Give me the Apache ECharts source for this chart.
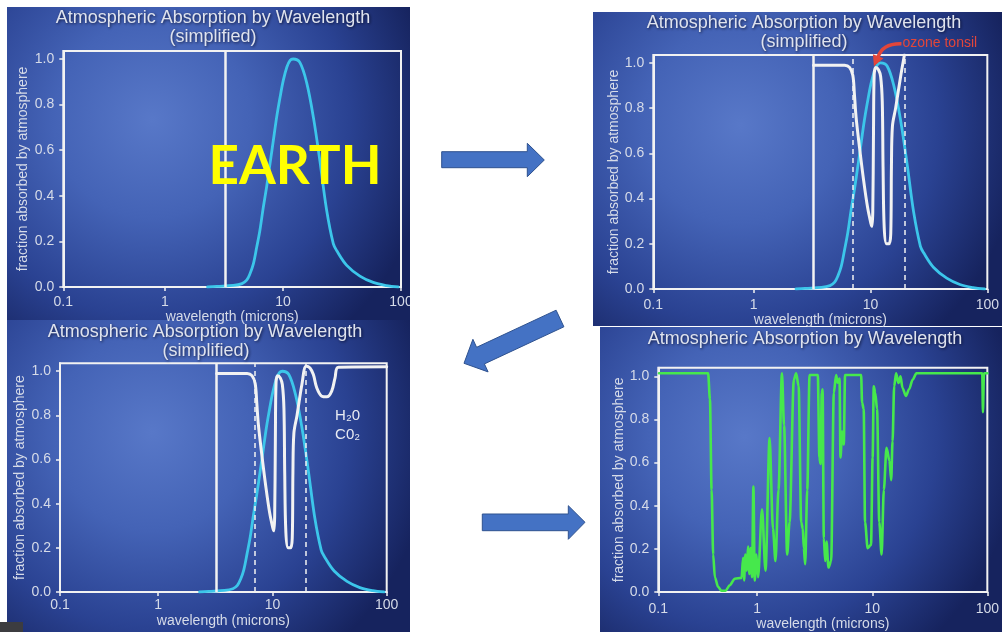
<!DOCTYPE html>
<html><head><meta charset="utf-8">
<script src="https://cdn.jsdelivr.net/npm/echarts@6/dist/echarts.min.js"></script>
<style>html,body{margin:0;padding:0;background:#fff}#c{width:1002px;height:632px}</style>
</head><body><div id="c"></div>
<script>
// ---------- text ----------
const titleText = 'Atmospheric Absorption by Wavelength';
const subtitleText = '(simplified)';
const xAxisTitle = 'wavelength (microns)';
const yAxisTitle = 'fraction absorbed by atmosphere';
const yTickValues = [0, 0.2, 0.4, 0.6, 0.8, 1.0];
const xRange = [0.138, 100];

// ---------- data: [wavelength (µm), value] ----------
const earthEmission = [
  [2.3,0],[2.75,0.003],[3.8,0.007],[4.5,0.015],[4.93,0.03],[5.26,0.058],[5.61,0.10],[6.0,0.175],
  [6.39,0.25],[6.82,0.35],[7.28,0.44],[7.77,0.54],[8.28,0.64],[8.85,0.745],[9.44,0.83],[10.07,0.906],
  [10.8,0.965],[11.5,0.994],[12.2,1.0],[13.9,0.985],[15.9,0.895],[18.1,0.745],[20.6,0.55],[23.4,0.34],
  [26.7,0.19],[28.5,0.16],[34.7,0.095],[44.9,0.048],[58.2,0.02],[75.5,0.006],[94.8,0.0]
];
const windowCore = [
  [3.25,0.99],[6.0,0.99],[6.61,0.98],[7.05,0.945],[7.28,0.86],[7.52,0.76],[8.03,0.63],[8.73,0.48],
  [9.44,0.36],[10.07,0.29],[10.27,0.277],[10.45,0.34],[10.6,0.69],[10.75,0.95],[11.1,0.98],[11.7,0.97],
  [12.2,0.94],[12.6,0.83],[12.8,0.54],[13.1,0.27],[13.7,0.2],[14.4,0.2],[14.9,0.245],[15.1,0.54],
  [15.4,0.72],[16.4,0.8],[18.1,0.94]
];
const windowEndPanel2 = [[19.5,1.035]];
const waterCo2Tail = [
  [19.7,1.023],[21.3,1.015],[22.8,0.985],[24.4,0.925],[27.0,0.887],[29.9,0.884],[33.0,0.91],
  [35.3,0.97],[37.8,1.018],[100,1.02]
];
const fullSpectrum = [
  [0.14,1.014],[0.374,1.014],[0.388,0.894],[0.401,0.474],[0.414,0.174],[0.428,0.069],[0.457,0.024],
  [0.489,0.006],[0.53,0.006],[0.577,0.032],[0.638,0.062],[0.73,0.066],[0.754,0.159],[0.768,0.054],
  [0.789,0.174],[0.811,0.099],[0.832,0.211],[0.855,0.084],[0.878,0.204],[0.901,0.069],[0.926,0.489],
  [0.951,0.054],[0.984,0.174],[1.016,0.069],[1.1,0.384],[1.18,0.099],[1.28,0.714],[1.37,0.294],
  [1.44,0.144],[1.53,0.474],[1.64,1.014],[1.71,0.774],[1.82,0.174],[1.91,0.324],[2.08,0.984],
  [2.18,1.014],[2.29,0.954],[2.41,0.324],[2.49,0.294],[2.54,0.204],[2.61,0.129],[2.72,0.474],
  [2.85,1.006],[3.36,1.006],[3.47,0.624],[3.55,0.594],[3.64,0.924],[3.7,0.94],[3.79,0.249],
  [3.9,0.144],[4.0,0.234],[4.16,0.114],[4.39,0.144],[4.63,0.924],[4.85,1.006],[5.0,0.97],[5.19,0.99],
  [5.29,0.624],[5.47,0.744],[5.65,0.684],[5.8,1.006],[8.0,1.006],[8.15,0.879],[8.42,0.849],
  [8.65,0.324],[9.12,0.204],[9.75,0.219],[10.07,0.624],[10.3,0.954],[10.6,0.924],[11.0,0.85],
  [11.5,0.324],[12.05,0.174],[12.6,0.474],[13.3,0.669],[14.1,0.609],[14.6,0.519],[15.0,0.699],
  [15.5,0.954],[16.1,1.014],[16.9,0.969],[17.6,1.0],[18.3,0.946],[19.6,0.909],[20.9,0.94],
  [22.4,0.984],[24.2,1.014],[90.4,1.014],[91.6,0.834],[93.5,1.014],[100,1.014]
];
const sunEarthDivide = 3.25;
const windowEdges = [7, 19.5];
const ozonePeak = [10.8, 0.985];
const gasLabelPos = [[35.3, 0.80], [35.3, 0.71]];
const gasLabels = ['H\u20820', 'C0\u2082'];

// ---------- layout / style ----------
const FONT = '"Liberation Sans", Arial, sans-serif';
const LABEL = '#d6dbe8';
const CYAN = '#3cc6ea';
const WHITE = '#f2f2f2';
const GREEN = '#46e84c';
const panels = [
  {bg:[7,7,403,313],   grid:[63.3,51,337.7,236],    yMax:1.035, gapY:33, mX:8,  gapX:22, title:[213,18],  sub:[213,37]},
  {bg:[593,12,409,314],grid:[653.3,55,337.7,234],   yMax:1.035, gapY:30, mX:9,  gapX:23, title:[804,23],  sub:[804,42]},
  {bg:[7,320,403,312], grid:[60,363.3,326.7,228.7], yMax:1.036, gapY:30, mX:6,  gapX:22, title:[205,332], sub:[206,351]},
  {bg:[600,327,402,305],grid:[658.3,367.7,330,231], yMax:1.04,  gapY:30, mX:10, gapX:21, title:[805,339], sub:null}
];

const chart = echarts.init(document.getElementById('c'), null, {renderer:'canvas'});

const grids = panels.map(p => ({left:p.grid[0], top:p.grid[1], width:p.grid[2], height:p.grid[3],
  show:true, borderColor:WHITE, borderWidth:2, backgroundColor:'transparent'}));
const xAxes = panels.map((p,i) => ({
  type:'log', logBase:10, gridIndex:i, min:xRange[0], max:xRange[1],
  axisLine:{show:true, lineStyle:{color:WHITE, width:2}},
  axisTick:{show:true, length:4, lineStyle:{color:WHITE, width:1.5}},
  splitLine:{show:false},
  axisLabel:{color:LABEL, fontSize:14, fontFamily:FONT, margin:p.mX,
    formatter: v => v < 0.5 ? '0.1' : String(Math.round(v))},
  name:xAxisTitle, nameLocation:'middle', nameGap:p.gapX,
  nameTextStyle:{color:LABEL, fontSize:14, fontFamily:FONT}
}));
const yAxes = panels.map((p,i) => ({
  type:'value', gridIndex:i, min:0, max:p.yMax,
  axisLine:{show:true, lineStyle:{color:WHITE, width:2}},
  axisTick:{show:true, length:4, customValues:yTickValues, lineStyle:{color:WHITE, width:1.5}},
  splitLine:{show:false},
  axisLabel:{color:LABEL, fontSize:14, fontFamily:FONT, margin:9, customValues:yTickValues,
    formatter: v => v.toFixed(1)},
  name:yAxisTitle, nameLocation:'middle', nameRotate:90, nameGap:p.gapY,
  nameTextStyle:{color:LABEL, fontSize:14, fontFamily:FONT}
}));

const solidDivide = {xAxis:sunEarthDivide, lineStyle:{color:WHITE, width:2.5, type:'solid'}};
const dashed = windowEdges.map(x => ({xAxis:x, lineStyle:{color:WHITE, width:1.5, type:[5,4]}}));
const ml = (data) => ({silent:true, symbol:'none', label:{show:false}, animation:false, data});
const lineS = (i, data, color, smooth, mono, width, extra) => Object.assign({
  type:'line', xAxisIndex:i, yAxisIndex:i, data, showSymbol:false, symbol:'none',
  smooth, smoothMonotone: mono,
  lineStyle:{color, width, cap:'round', join:'round'}, silent:true, animation:false
}, extra || {});

chart.setOption({
  animation:false,
  backgroundColor:'#ffffff',
  grid:grids, xAxis:xAxes, yAxis:yAxes,
  series:[
    lineS(0, earthEmission, CYAN, 0.35, null, 2.8, {markLine: ml([solidDivide])}),
    lineS(1, earthEmission, CYAN, 0.35, null, 2.8),
    lineS(1, windowCore.concat(windowEndPanel2), WHITE, 0.35, null, 3, {markLine: ml([solidDivide].concat(dashed))}),
    lineS(2, earthEmission, CYAN, 0.35, null, 2.8),
    lineS(2, windowCore.concat(waterCo2Tail), WHITE, 0.35, null, 3, {markLine: ml([solidDivide].concat(dashed))}),
    lineS(3, fullSpectrum, GREEN, 0.3, 'x', 2.6)
  ]
});

// ---------- decorations ----------
const bgFill = {type:'radial', x:0.36, y:0.36, r:0.9, colorStops:[
  {offset:0, color:'#5878c8'},{offset:0.35, color:'#4463b6'},{offset:0.7, color:'#2a4292'},{offset:1, color:'#16235e'}]};
const els = [];
panels.forEach(p => {
  els.push({type:'rect', z:-10, silent:true, shape:{x:p.bg[0], y:p.bg[1], width:p.bg[2], height:p.bg[3]}, style:{fill:bgFill}});
});
const txt = (x, y, text, font, fill, align, z) => ({type:'text', z:z||50, silent:true, x, y,
  style:{text, font, fill, align:align||'center', verticalAlign:'middle', textAlign:align||'center', textVerticalAlign:'middle',
    textShadowColor:'rgba(0,0,20,0.7)', textShadowBlur:3, textShadowOffsetX:1, textShadowOffsetY:1}});
panels.forEach(p => {
  els.push(txt(p.title[0], p.title[1], titleText, '18px ' + FONT, '#dfe3ee'));
  if (p.sub) els.push(txt(p.sub[0], p.sub[1], subtitleText, '18px ' + FONT, '#dfe3ee'));
});
// clip panel 1 "100" at panel edge
els.push({type:'rect', z:60, silent:true, shape:{x:410, y:288, width:25, height:32}, style:{fill:'#ffffff'}});
// small dark square
els.push({type:'rect', z:60, silent:true, shape:{x:0, y:622, width:23, height:10}, style:{fill:'#3c3c40'}});
// EARTH
els.push({type:'text', z:80, silent:true, x:295, y:167,
  style:{text:'EARTH', font:'bold 53px Lato, "Liberation Sans", sans-serif', fill:'#ffff00',
    align:'center', verticalAlign:'middle', textAlign:'center', textVerticalAlign:'middle'}});
// arrows between panels
const arrowStyle = {fill:'#4472c4', stroke:'#2f528f', lineWidth:1};
els.push({type:'polygon', z:5, silent:true, shape:{points:[[441.7,151.7],[527.3,151.7],[527.3,143.3],[544.3,160],[527.3,176.7],[527.3,167.7],[441.7,167.7]]}, style:arrowStyle});
els.push({type:'polygon', z:5, silent:true, shape:{points:[[556.1,310.2],[476.6,347.3],[472.9,339.3],[464,363.3],[488.1,371.9],[484.4,363.9],[563.9,326.8]]}, style:arrowStyle});
els.push({type:'polygon', z:5, silent:true, shape:{points:[[482.3,514],[568.3,514],[568.3,505.7],[585,522.3],[568.3,539.3],[568.3,530.7],[482.3,530.7]]}, style:arrowStyle});
// ozone tonsil annotation
const T = chart.convertToPixel({gridIndex:1}, ozonePeak);
const RED = '#e2463a';
els.push({type:'bezierCurve', z:70, silent:true, shape:{x1:T[0]+27, y1:T[1]-22.5, cpx1:T[0]+8, cpy1:T[1]-23, x2:T[0]+3.5, y2:T[1]-9},
  style:{stroke:RED, lineWidth:3.5, fill:null}});
els.push({type:'polygon', z:70, silent:true, shape:{points:[[T[0]-0.5,T[1]],[T[0]+9,T[1]-8],[T[0]-1.5,T[1]-12]]}, style:{fill:RED}});
els.push({type:'text', z:70, silent:true, x:T[0]+28, y:T[1]-23.5,
  style:{text:'ozone tonsil', font:'14px ' + FONT, fill:RED, align:'left', verticalAlign:'middle', textAlign:'left', textVerticalAlign:'middle'}});
// H2O / CO2 labels
gasLabels.forEach((g, k) => {
  const P = chart.convertToPixel({gridIndex:2}, gasLabelPos[k]);
  els.push({type:'text', z:70, silent:true, x:P[0], y:P[1],
    style:{text:g, font:'15px ' + FONT, fill:'#e8ebf2', align:'left', verticalAlign:'middle', textAlign:'left', textVerticalAlign:'middle'}});
});
chart.setOption({graphic:{elements:els}});
</script></body></html>
